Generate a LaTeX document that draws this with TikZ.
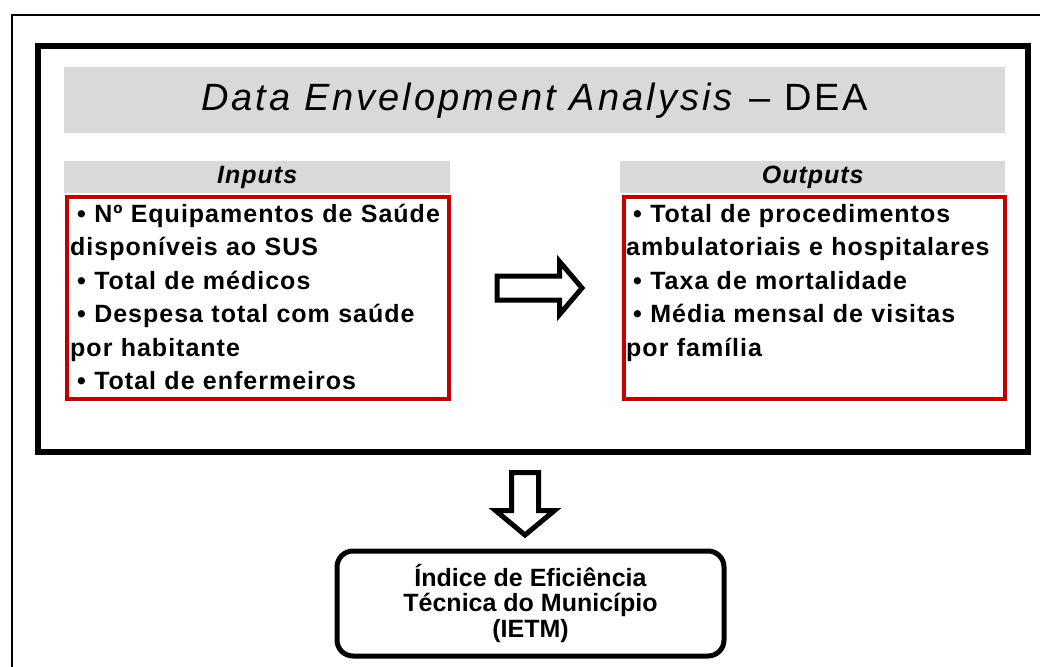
\documentclass[tikz,border=0pt]{standalone}
\usepackage{fontspec}
\setmainfont{Liberation Sans}
\newfontfamily\titlefont[LetterSpace=8]{Liberation Sans}
\newfontfamily\listfont[LetterSpace=4]{Liberation Sans}
\definecolor{bandgray}{HTML}{D9D9D9}
\definecolor{boxred}{HTML}{C00000}
\newcommand{\itm}{\hspace*{.28em}•\ }

\begin{document}
\begin{tikzpicture}[x=1pt, y=-1pt,
  band/.style={fill=bandgray, inner sep=0pt, anchor=north west},
  redbox/.style={draw=boxred, line width=4pt, inner sep=0pt, anchor=north west},
  listtext/.style={anchor=base west, inner sep=0pt, text width=420pt, align=left,
    font=\listfont\bfseries\fontsize{25}{33.5}\selectfont},
  blockarrow/.style={draw, line width=5pt, fill=white, miter limit=10}
]
\useasboundingbox (0,0) rectangle (1040,666);

% outer frame and DEA frame
\draw[line width=1.3pt] (12,680) -- (12,15) -- (1050,15);
\node[draw, line width=6pt, inner sep=0pt, minimum width=990pt, minimum height=406pt, anchor=north west] (dea frame) at (35,43) {};

\node[band, minimum width=941pt, minimum height=66pt, font=\titlefont\fontsize{38}{44}\selectfont] (title) at (64,67) {\textit{Data Envelopment Analysis\/} – DEA};

% inputs
\node[band, minimum width=386pt, minimum height=32pt, font=\listfont\bfseries\itshape\fontsize{25}{28}\selectfont] (inputs head) at (64,161) {Inputs};
\node[redbox, minimum width=382pt, minimum height=202pt] (inputs box) at (65,195) {};
\node[listtext] (inputs list) at (70,222) {\itm Nº Equipamentos de Saúde\\disponíveis ao SUS\\\itm Total de médicos\\\itm Despesa total com saúde\\por habitante\\\itm Total de enfermeiros};

% outputs
\node[band, minimum width=385pt, minimum height=32pt, font=\listfont\bfseries\itshape\fontsize{25}{28}\selectfont] (outputs head) at (620,161) {Outputs};
\node[redbox, minimum width=381pt, minimum height=202pt] (outputs box) at (622,195) {};
\node[listtext] (outputs list) at (626,222) {\itm Total de procedimentos\\ambulatoriais e hospitalares\\\itm Taxa de mortalidade\\\itm Média mensal de visitas\\por família};

% arrows
\draw[blockarrow] (497,276) -- (559.5,276) -- (559.5,261.5) -- (582,288) -- (559.5,314.5) -- (559.5,300) -- (497,300) -- cycle;
\draw[blockarrow] (511.5,472.5) -- (538.5,472.5) -- (538.5,510.5) -- (554.5,510.5) -- (525,535) -- (495.5,510.5) -- (511.5,510.5) -- cycle;

% result
\node[draw, line width=5pt, rounded corners=16pt, inner sep=0pt, minimum width=387pt, minimum height=105pt, anchor=north west, align=center, font=\bfseries\fontsize{25}{25.5}\selectfont] (ietm) at (334.5,548.5) {Índice de Eficiência\\Técnica do Município\\(IETM)};
\end{tikzpicture}
\end{document}
